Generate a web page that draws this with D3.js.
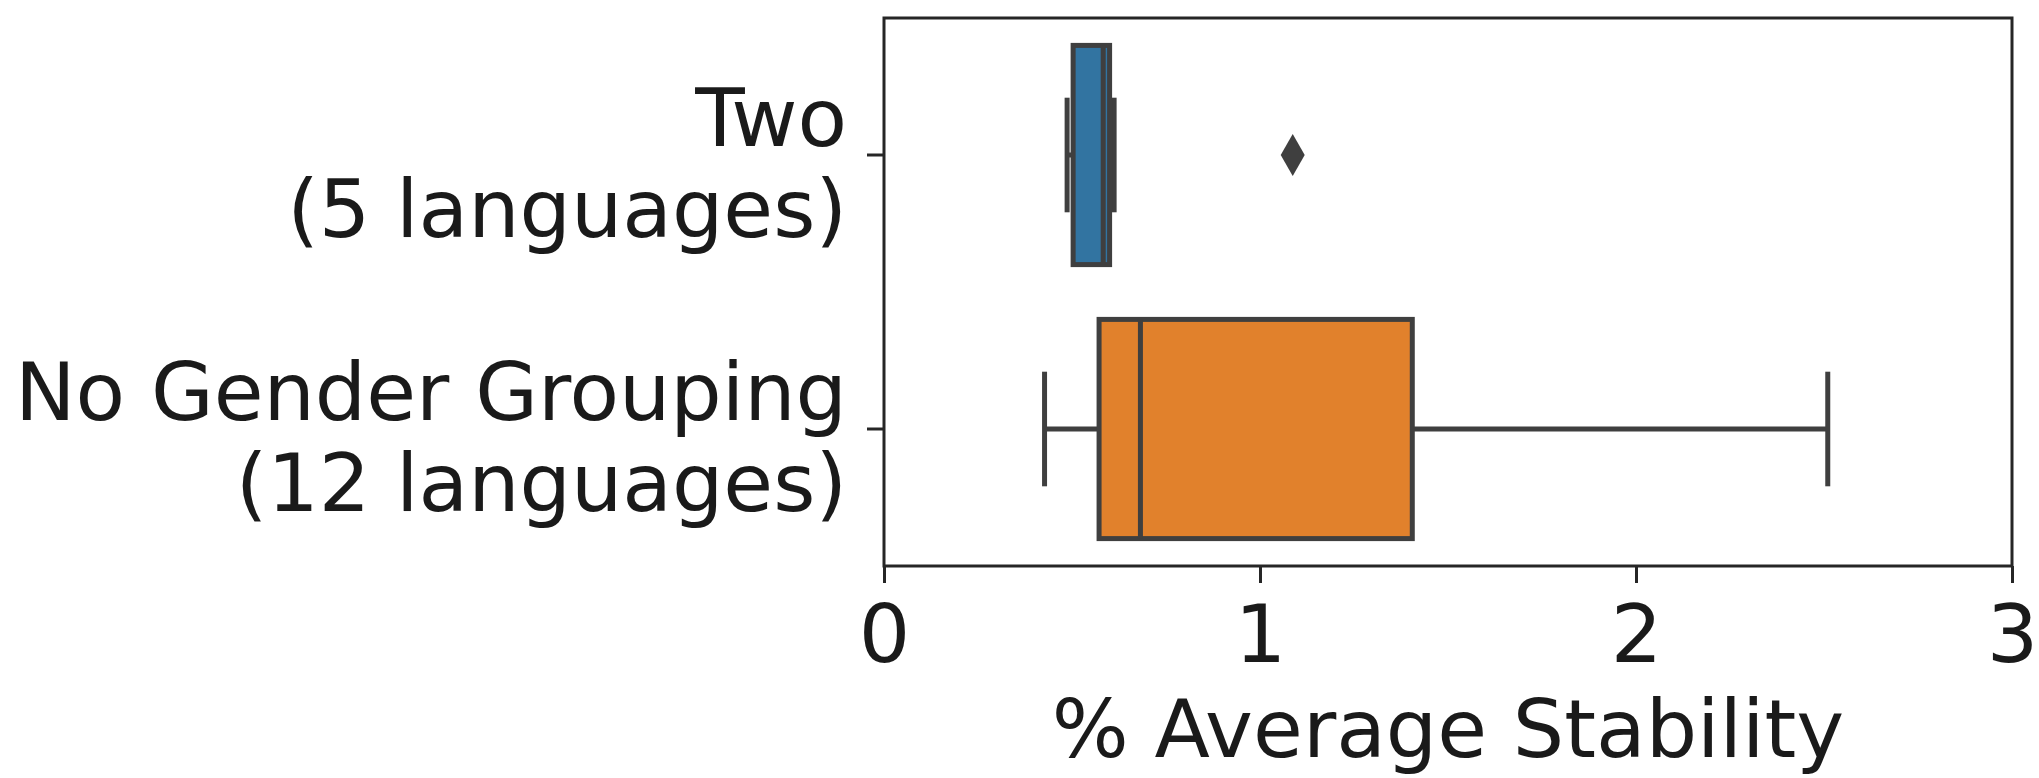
<!DOCTYPE html>
<html>
  <head>
    <meta charset="utf-8">
    <title>Average Stability</title>
    <script src="https://d3js.org/d3.v7.min.js"></script>
    <style>
      body { margin: 0; background: #fff; }
      text { font-family: "DejaVu Sans", sans-serif; fill: #1a1a1a; }
    </style>
  </head>
  <body>
    <div id="chart"></div>
    <script>
      // data
      var groups = ["Two", "No Gender Grouping"];
      var groupNotes = ["(5 languages)", "(12 languages)"];
      var whiskLow = [0.487, 0.427];
      var q1 = [0.503, 0.572];
      var median = [0.583, 0.682];
      var q3 = [0.600, 1.405];
      var whiskHigh = [0.612, 2.51];
      var outliers = [[1.087], []];
      var colors = ["#3274a1", "#e1812c"];
      var xTicks = [0, 1, 2, 3];
      var xTitle = "% Average Stability";

      var width = 2039, height = 778;
      var margin = {top: 18, right: 27, bottom: 212, left: 884};
      var edge = "#3f3f3f";
      var fontSize = "81px";

      var svg = d3.select("#chart").append("svg")
        .attr("width", width)
        .attr("height", height);

      var x = d3.scaleLinear().domain([0, 3]).range([margin.left, width - margin.right]);
      var y = d3.scaleBand().domain(groups).range([margin.top, height - margin.bottom]).padding(0);
      var boxH = y.bandwidth() * 0.8;

      var boxes = svg.append("g").selectAll("g")
        .data(groups)
        .enter().append("g");

      // whiskers
      boxes.append("line")
        .attr("x1", function(d, i) { return x(whiskLow[i]); })
        .attr("x2", function(d, i) { return x(q1[i]); })
        .attr("y1", function(d) { return y(d) + y.bandwidth() / 2; })
        .attr("y2", function(d) { return y(d) + y.bandwidth() / 2; })
        .attr("stroke", edge).attr("stroke-width", 5);
      boxes.append("line")
        .attr("x1", function(d, i) { return x(q3[i]); })
        .attr("x2", function(d, i) { return x(whiskHigh[i]); })
        .attr("y1", function(d) { return y(d) + y.bandwidth() / 2; })
        .attr("y2", function(d) { return y(d) + y.bandwidth() / 2; })
        .attr("stroke", edge).attr("stroke-width", 5);

      // caps
      [whiskLow, whiskHigh].forEach(function(arr) {
        boxes.append("line")
          .attr("x1", function(d, i) { return x(arr[i]); })
          .attr("x2", function(d, i) { return x(arr[i]); })
          .attr("y1", function(d) { return y(d) + y.bandwidth() / 2 - boxH / 4; })
          .attr("y2", function(d) { return y(d) + y.bandwidth() / 2 + boxH / 4; })
          .attr("stroke", edge).attr("stroke-width", 5)
          .attr("stroke-linecap", "square");
      });

      // boxes
      boxes.append("rect")
        .attr("x", function(d, i) { return x(q1[i]); })
        .attr("width", function(d, i) { return x(q3[i]) - x(q1[i]); })
        .attr("y", function(d) { return y(d) + (y.bandwidth() - boxH) / 2; })
        .attr("height", boxH)
        .attr("fill", function(d, i) { return colors[i]; })
        .attr("stroke", edge).attr("stroke-width", 5);

      // medians
      boxes.append("line")
        .attr("x1", function(d, i) { return x(median[i]); })
        .attr("x2", function(d, i) { return x(median[i]); })
        .attr("y1", function(d) { return y(d) + (y.bandwidth() - boxH) / 2; })
        .attr("y2", function(d) { return y(d) + (y.bandwidth() + boxH) / 2; })
        .attr("stroke", edge).attr("stroke-width", 5);

      // outliers, thin diamonds
      boxes.each(function(d, i) {
        var cy = y(d) + y.bandwidth() / 2;
        d3.select(this).selectAll("path.flier")
          .data(outliers[i])
          .enter().append("path")
          .attr("class", "flier")
          .attr("d", function(v) {
            var cx = x(v);
            return "M" + cx + "," + (cy - 21) + "L" + (cx + 12) + "," + cy +
              "L" + cx + "," + (cy + 21) + "L" + (cx - 12) + "," + cy + "Z";
          })
          .attr("fill", edge);
      });

      // frame
      svg.append("rect")
        .attr("x", margin.left)
        .attr("y", margin.top)
        .attr("width", width - margin.right - margin.left)
        .attr("height", height - margin.bottom - margin.top)
        .attr("fill", "none")
        .attr("stroke", "#262626")
        .attr("stroke-width", 3);

      // x axis
      var xAxis = svg.append("g")
        .attr("transform", "translate(0," + (height - margin.bottom) + ")")
        .call(d3.axisBottom(x).tickValues(xTicks).tickFormat(d3.format("d")).tickSize(17).tickPadding(21));
      xAxis.select(".domain").remove();
      xAxis.selectAll(".tick line").attr("stroke", "#262626").attr("stroke-width", 3);
      xAxis.selectAll("text").style("font-size", fontSize).attr("fill", "#1a1a1a");

      // y axis
      var yAxis = svg.append("g")
        .attr("transform", "translate(" + margin.left + ",0)")
        .call(d3.axisLeft(y).tickSize(17));
      yAxis.select(".domain").remove();
      yAxis.selectAll(".tick line").attr("stroke", "#262626").attr("stroke-width", 3);
      yAxis.selectAll(".tick text").remove();
      yAxis.selectAll(".tick").each(function(d, i) {
        var t = d3.select(this).append("text")
          .attr("text-anchor", "end")
          .attr("fill", "#1a1a1a")
          .style("font-size", fontSize);
        t.append("tspan").attr("x", -37).attr("y", -9).text(d);
        t.append("tspan").attr("x", -37).attr("y", 82).text(groupNotes[i]);
      });

      // x title
      svg.append("text")
        .attr("x", (margin.left + width - margin.right) / 2)
        .attr("y", 757)
        .attr("text-anchor", "middle")
        .style("font-size", fontSize)
        .text(xTitle);
    </script>
  </body>
</html>
